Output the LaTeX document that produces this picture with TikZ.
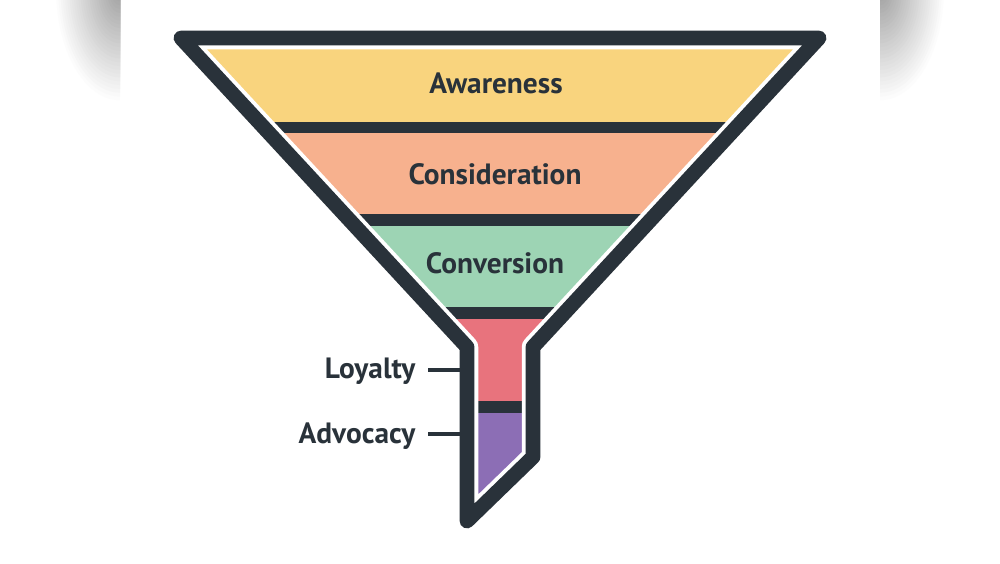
\documentclass[tikz,border=0pt]{standalone}
\usepackage{fontspec}
\setmainfont{PT Sans}
\definecolor{dark}{HTML}{29323A}
\definecolor{cyellow}{HTML}{F9D47E}
\definecolor{csalmon}{HTML}{F7B18E}
\definecolor{cgreen}{HTML}{9DD4B4}
\definecolor{cpink}{HTML}{E8737D}
\definecolor{cpurple}{HTML}{8C6EB5}
\tikzset{
  lbl/.style={text=dark, font=\fontsize{8.35}{10}\selectfont\bfseries, inner sep=0pt},
  leader/.style={draw=dark, line width=1.15pt},
  funnelpath/.style={line join=round},
}
\begin{document}
\begin{tikzpicture}[x=0.01cm,y=-0.01cm]
\useasboundingbox (0,0) rectangle (1000,563);
% screenshot shadows
\begin{scope}
\clip (0,0) rectangle (120,130);
\foreach \i in {30,29,...,1}{
  \pgfmathsetmacro{\g}{38*(1-\i/30)}
  \fill[black!\g] (120,-10) ellipse [x radius=2.2*\i, y radius=3.8*\i];
}
\end{scope}
\begin{scope}
\clip (880,0) rectangle (1000,130);
\foreach \i in {30,29,...,1}{
  \pgfmathsetmacro{\g}{38*(1-\i/30)}
  \fill[black!\g] (880,-10) ellipse [x radius=2.2*\i, y radius=3.8*\i];
}
\end{scope}
% funnel outline
\coordinate (TL) at (181,38);
\coordinate (TR) at (819,38);
\coordinate (RB) at (533,347);
\coordinate (RD) at (533,457);
\coordinate (LD) at (467,521);
\coordinate (LB) at (467,347);
\begin{scope}
\clip (TL) -- (TR) -- (RB) -- (RD) -- (LD) -- (LB) -- cycle;
\fill[cyellow] (150,0) rectangle (850,122);
\fill[dark] (150,122) rectangle (850,133);
\fill[csalmon] (150,133) rectangle (850,214);
\fill[dark] (150,214) rectangle (850,226);
\fill[cgreen] (150,226) rectangle (850,307);
\fill[dark] (150,307) rectangle (850,319);
\fill[cpink] (150,319) rectangle (850,401);
\fill[dark] (150,401) rectangle (850,413);
\fill[cpurple] (150,413) rectangle (850,563);
\end{scope}
\draw[funnelpath, white, line width=6.4pt] (TL) -- (TR) -- (RB) -- (RD) -- (LD) -- (LB) -- cycle;
\draw[funnelpath, dark, line width=4.2pt] (TL) -- (TR) -- (RB) -- (RD) -- (LD) -- (LB) -- cycle;
% stage labels
\node[lbl, anchor=base] (aw) at (496,93) {Awareness};
\node[lbl, anchor=base] (co) at (495,184) {Consideration};
\node[lbl, anchor=base] (cv) at (495,273) {Conversion};
% side labels
\coordinate (ly) at (460,370);
\coordinate (ad) at (460,434);
\node[lbl, anchor=base east] (loy) at (416,378) {Loyalty};
\node[lbl, anchor=base east] (adv) at (416,443) {Advocacy};
\draw[leader] (loy.east |- ly) ++(12,0) -- (ly);
\draw[leader] (adv.east |- ad) ++(12,0) -- (ad);
\end{tikzpicture}
\end{document}
